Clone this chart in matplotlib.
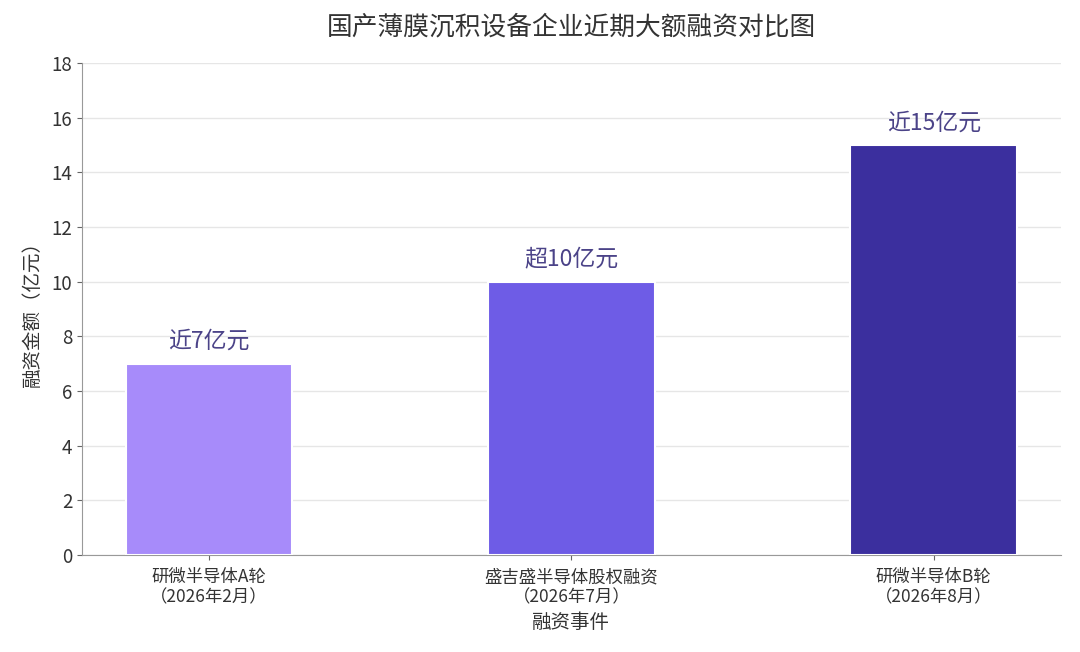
import numpy as np
import matplotlib
matplotlib.use("Agg")
import matplotlib.pyplot as plt

plt.rcParams['font.family'] = ['Noto Sans CJK SC', 'DejaVu Sans']

# data
events = ['研微半导体A轮\n（2026年2月）', '盛吉盛半导体股权融资\n（2026年7月）', '研微半导体B轮\n（2026年8月）']
amounts = [7, 10, 15]
labels = ['近7亿元', '超10亿元', '近15亿元']
colors = ['#A78BFA', '#6E5CE6', '#3B2F9E']

fig, ax = plt.subplots(figsize=(10.8, 6.52), dpi=100)
x = np.arange(len(events))
bars = ax.bar(x, amounts, width=0.46, color=colors, edgecolor='white', linewidth=1.5, zorder=3)

for b, t in zip(bars, labels):
    ax.text(b.get_x() + b.get_width() / 2, b.get_height() + 0.4, t,
            ha='center', va='bottom', fontsize=16.5, color='#4B4388', zorder=4)

ax.set_xlim(-0.35, 2.35)
ax.set_ylim(0, 18)
ax.set_yticks(range(0, 19, 2))
ax.set_xticks(x)
ax.set_xticklabels(events, fontsize=12.5, color='#333333', linespacing=1.15)
ax.tick_params(axis='y', labelsize=13.5, colors='#666666', labelcolor='#333333')
ax.tick_params(axis='x', colors='#666666', labelcolor='#333333', pad=6)
ax.grid(axis='y', color='#e6e6e6', linewidth=1, zorder=0)
ax.spines['top'].set_visible(False)
ax.spines['right'].set_visible(False)
ax.spines['left'].set_color('#999999')
ax.spines['bottom'].set_color('#999999')

ax.set_ylabel('融资金额（亿元）', fontsize=14, color='#333333', labelpad=6)
ax.set_xlabel('融资事件', fontsize=14, color='#333333', labelpad=4)
ax.set_title('国产薄膜沉积设备企业近期大额融资对比图', fontsize=18.5, color='#333333', pad=21)

plt.subplots_adjust(left=0.076, right=0.982, top=0.903, bottom=0.149)
plt.savefig('out.png', dpi=100)
